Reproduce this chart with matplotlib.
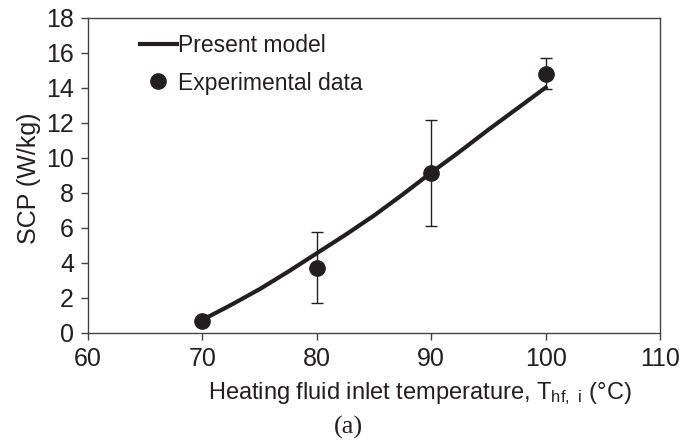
import matplotlib
matplotlib.use("Agg")
import matplotlib.pyplot as plt

# Model curve
model_T = [70, 72.5, 75, 77.5, 80, 82.5, 85, 87.5, 90, 92.5, 95, 97.5, 100]
model_scp = [0.75, 1.6, 2.5, 3.5, 4.55, 5.6, 6.7, 7.9, 9.15, 10.35, 11.6, 12.8, 14.0]

# Experimental data
exp_T = [70, 80, 90, 100]
exp_scp = [0.7, 3.72, 9.13, 14.79]
exp_err = [0.0, 2.03, 3.0, 0.88]

xticks = [60, 70, 80, 90, 100, 110]
yticks = [0, 2, 4, 6, 8, 10, 12, 14, 16, 18]

plt.rcParams['font.family'] = ['Liberation Sans', 'DejaVu Sans']
plt.rcParams['mathtext.fontset'] = 'custom'
plt.rcParams['mathtext.rm'] = 'Liberation Sans'

fig = plt.figure(figsize=(6.81, 4.42), dpi=100)
ax = fig.add_axes([88/681, 1-333/442, (660-88)/681, (333-17.5)/442])

col = '#231f20'
ax.plot(model_T, model_scp, color=col, lw=3.0, label='Present model', zorder=2)
ax.errorbar(exp_T, exp_scp, yerr=exp_err, fmt='o', color=col, ms=11,
            ecolor=col, elinewidth=1.0, capsize=4, capthick=1.0, zorder=3)
ax.plot([], [], 'o', color=col, ms=11, label='Experimental data')

ax.set_xlim(60, 110)
ax.set_ylim(0, 18)
ax.set_xticks(xticks)
ax.set_yticks(yticks)
ax.tick_params(direction='out', length=5, width=1, color='#444444',
               labelsize=18, pad=5, labelcolor=col)
for s in ax.spines.values():
    s.set_color('#444444')
    s.set_linewidth(1.0)

ax.set_ylabel('SCP (W/kg)', fontsize=18, color=col)
ax.yaxis.set_label_coords(-0.082, 0.49)
ax.set_xlabel(r'Heating fluid inlet temperature, $\mathregular{T_{hf,\ i}}$ (°C)',
              fontsize=17, color=col)
ax.xaxis.set_label_coords(0.58, -0.15)

handles, labels = ax.get_legend_handles_labels()
leg = ax.legend(handles, labels, loc='upper left', bbox_to_anchor=(0.075, 0.978),
                frameon=False, fontsize=16.5, handlelength=1.6,
                handletextpad=0.05, labelspacing=0.65, borderaxespad=0.0,
                labelcolor=col)

fig.text(348/681, 1-434/442, '(a)', family=['Liberation Serif'], fontsize=19,
         ha='center', va='baseline', color=col)

fig.savefig('out.png', dpi=100)
